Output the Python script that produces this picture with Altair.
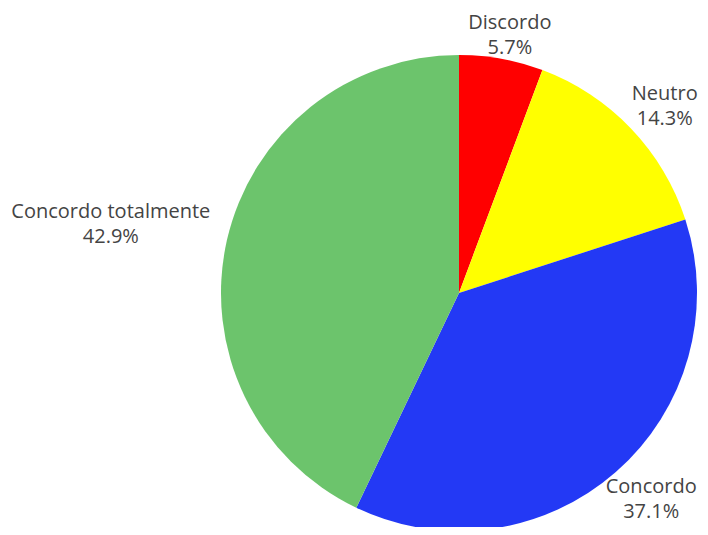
import altair as alt
import pandas as pd

categories = ["Discordo", "Neutro", "Concordo", "Concordo totalmente"]
percents = [5.7, 14.3, 37.1, 42.9]
colors = ["#ff0000", "#ffff00", "#2339f5", "#6cc46c"]

df = pd.DataFrame({"cat": categories, "pct": percents, "idx": list(range(len(categories)))})

CX, CY, R = 451, 285, 238

# label placement (style): radius, dx, dy
label_style = {
    "Discordo": (263, 4, -11),
    "Neutro": (282, 2, -4),
    "Concordo": (275, 11, -13),
    "Concordo totalmente": (356, -1, -2),
}

base = alt.Chart(df).encode(
    theta=alt.Theta("pct:Q", stack=True),
    order=alt.Order("idx:Q", sort="ascending"),
)

pie = base.mark_arc(outerRadius=R).encode(
    color=alt.Color("cat:N", scale=alt.Scale(domain=categories, range=colors), legend=None),
    x=alt.value(CX),
    y=alt.value(CY),
)

layers = [pie]
for c in categories:
    r, dx, dy = label_style[c]
    t = base.transform_calculate(
        label="datum.cat + '\\n' + format(datum.pct, '.1f') + '%'"
    ).mark_text(
        radius=r, dx=dx, dy=dy, font="Open Sans", fontSize=20, lineHeight=25,
        color="#444444", align="center", baseline="middle", lineBreak="\n",
    ).encode(
        text=alt.condition(f"datum.cat == '{c}'", "label:N", alt.value("")),
        x=alt.value(CX),
        y=alt.value(CY),
    )
    layers.append(t)

chart = alt.layer(*layers).properties(
    width=692, height=519, autosize=alt.AutoSizeParams(type="none"), padding=0,
    background="white",
).configure_view(stroke=None)

chart.save("out.html", embed_options={"renderer": "svg", "actions": False})
